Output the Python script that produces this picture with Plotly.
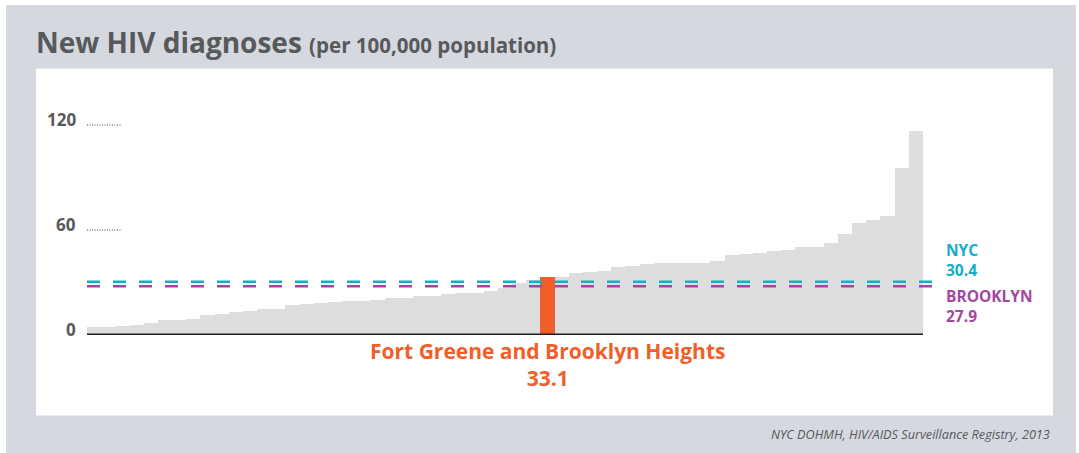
import plotly.graph_objects as go

# ---- data ----
values = [4.5, 4.6, 5.1, 5.7, 6.9, 8.6, 8.6, 9.1, 11.4, 12.0,
          13.1, 13.7, 14.9, 14.9, 17.1, 17.7, 18.3, 18.9, 19.4, 19.4,
          20.0, 21.1, 21.1, 22.3, 22.3, 23.4, 24.0, 24.0, 25.1, 26.9,
          29.9, 31.4, 33.1, 33.1, 35.4, 36.0, 36.6, 38.9, 39.4, 40.6,
          41.1, 41.1, 41.1, 41.1, 42.3, 45.7, 46.3, 46.9, 48.0, 48.6,
          50.3, 50.3, 52.6, 57.7, 64.0, 65.7, 68.0, 95.2, 116.6]
highlight_index = 32
highlight_name = "Fort Greene and Brooklyn Heights"
highlight_value = 33.1
nyc_value = 30.4
brooklyn_value = 27.9
tick_values = [0, 60, 120]
tick_labels = ["0", "60", "120"]

# ---- styling ----
W, H = 1079, 453
PX_PER_UNIT = 1.75
L, R, T, B = 87, 156, 108, 118
plot_w = W - L - R
plot_h = H - T - B

GRAY_BG = "#d5d8df"
BAR_GRAY = "#dcdddf"
ORANGE = "#f05f2a"
CYAN = "#13afc7"
PURPLE = "#a2479d"
TEXT = "#58595b"
FONT = "Open Sans"


def px_x(p):
    return (p - L) / plot_w


def px_y(p):
    return (H - B - p) / plot_h


colors = [ORANGE if i == highlight_index else BAR_GRAY for i in range(len(values))]

fig = go.Figure()
fig.add_trace(go.Bar(
    x=list(range(len(values))), y=values,
    marker=dict(color=colors, line=dict(width=0)),
    hoverinfo="skip",
))

shapes = [
    # outer gray card
    dict(type="rect", xref="paper", yref="paper", x0=px_x(6), x1=px_x(1076),
         y0=px_y(5), y1=px_y(460), fillcolor=GRAY_BG, line=dict(width=0), layer="below"),
    # white panel
    dict(type="rect", xref="paper", yref="paper", x0=px_x(36), x1=px_x(1053),
         y0=px_y(68.5), y1=px_y(415.5), fillcolor="white", line=dict(width=0), layer="below"),
    # baseline
    dict(type="line", xref="paper", yref="y", x0=0, x1=1, y0=0, y1=0,
         line=dict(color="#231f20", width=3)),
]
# reference lines
for val, col in [(nyc_value, CYAN), (brooklyn_value, PURPLE)]:
    shapes.append(dict(type="line", xref="paper", yref="y", x0=0, x1=px_x(940),
                       y0=val, y1=val, line=dict(color=col, width=2.5, dash="13px,13px")))
# short dotted tick lines
for tv in tick_values[1:]:
    shapes.append(dict(type="line", xref="paper", yref="y", x0=0, x1=px_x(122),
                       y0=tv, y1=tv, line=dict(color="#444444", width=1, dash="1px,1.5px")))

annotations = []
for tv, tl in zip(tick_values, tick_labels):
    annotations.append(dict(xref="paper", yref="y", x=px_x(78), y=tv, yshift=6,
                            text=f"<b>{tl}</b>", showarrow=False, xanchor="right",
                            yanchor="middle", font=dict(family=FONT, size=17, color=TEXT)))

ref_labels = [
    ("NYC", nyc_value, CYAN, 260),
    ("BROOKLYN", brooklyn_value, PURPLE, 306),
]
for name, val, col, y_mid in ref_labels:
    annotations.append(dict(xref="paper", yref="paper", x=px_x(944), y=px_y(y_mid),
                            text=f"<b>{name}<br>{val}</b>", showarrow=False, xanchor="left",
                            yanchor="middle", align="left",
                            font=dict(family=FONT, size=15.5, color=col)))

annotations += [
    dict(xref="x", yref="paper", x=highlight_index, y=px_y(364),
         text=f"<b>{highlight_name}<br>{highlight_value}</b>", showarrow=False,
         xanchor="center", yanchor="middle", align="center",
         font=dict(family=FONT, size=21, color=ORANGE)),
    dict(xref="paper", yref="paper", x=px_x(1052), y=px_y(434),
         text="<i>NYC DOHMH, HIV/AIDS Surveillance Registry, 2013</i>", showarrow=False,
         xanchor="right", yanchor="middle", font=dict(family=FONT, size=12.7, color=TEXT)),
]

fig.update_layout(
    width=W, height=H,
    margin=dict(l=L, r=R, t=T, b=B, pad=0),
    paper_bgcolor="white", plot_bgcolor="rgba(0,0,0,0)",
    bargap=0, showlegend=False,
    title=dict(
        text="<b>New HIV diagnoses</b> <b><span style='font-size:20.5px'>(per 100,000 population)</span></b>",
        x=36 / W, xanchor="left", xref="container",
        y=1 - 43 / H, yanchor="middle", yref="container",
        font=dict(family=FONT, size=28, color=TEXT)),
    xaxis=dict(range=[-0.5, len(values) - 0.5], visible=False, fixedrange=True),
    yaxis=dict(range=[0, plot_h / PX_PER_UNIT], visible=False, fixedrange=True),
    shapes=shapes, annotations=annotations,
)

fig.write_html("out.html", config={"displayModeBar": False},
               post_script="document.body.style.margin='0';")
